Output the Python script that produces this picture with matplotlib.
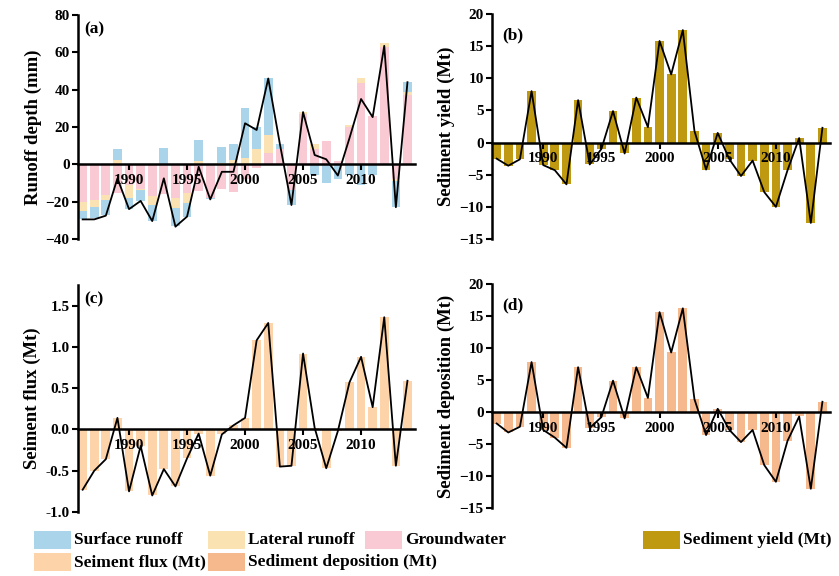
import numpy as np
import matplotlib.pyplot as plt
from matplotlib.patches import Rectangle

plt.rcParams['font.family'] = ['Liberation Serif', 'DejaVu Serif']
plt.rcParams['font.weight'] = 'bold'

years = np.arange(1986, 2015)

# Runoff components (mm), stacked from zero outward: groundwater, lateral, surface
groundwater = [-20, -19, -16.5, -15.5, -11, -13, -17, -16, -18, -15.5, -14.3, -18, -13, -14.9,
               -8, -2, 5.9, 8.2, -13.5, 27, 8, 12.6, 2, 20, 43.4, 25.9, 63, -8, 37]
lateral = [-5, -4, -2.7, 2.5, -7, -1, -5, 0, -5.4, -5.4, 2, 0, 0.5, 2.3,
           3.4, 8, 9.8, 0, 0, 1, 3, 0, 0, 1, 2.7, 0, 1.8, -1, 1.8]
surface = [-4.5, -6, -8, 5.5, -6, -5.6, -8.4, 8.5, -9.8, -7.1, 11, -0.8, 8.6, 8.6,
           26.8, 12.1, 30.7, 2.8, -8.3, 0, -5.8, -10, -8, -5.7, -11, -5.8, 0, -14, 5.4]
runoff_total = [-29.5, -29.5, -27.5, -7.5, -24, -19.6, -30.4, -7.5, -33.4, -28, -1.3, -18.8, -4, -4,
                22, 18.4, 46, 11, -21.8, 28, 5, 2.7, -6, 14, 35, 25.3, 63.5, -23, 44]

sediment_yield = [-2.5, -3.6, -2.6, 8.0, -3.5, -4.3, -6.5, 6.6, -3.4, -1.0, 4.9, -1.7, 7.0, 2.4,
                  15.8, 10.6, 17.5, 1.8, -4.2, 1.5, -2.6, -5.2, -2.8, -7.7, -10.0, -4.3, 0.7, -12.5, 2.3]
sediment_flux = [-0.73, -0.5, -0.36, 0.14, -0.75, -0.2, -0.8, -0.48, -0.69, -0.35, -0.05, -0.56, -0.06, 0.05,
                 0.14, 1.08, 1.29, -0.45, -0.44, 0.92, 0.02, -0.47, -0.02, 0.57, 0.88, 0.27, 1.36, -0.44, 0.59]
sediment_dep = [-1.8, -3.2, -2.3, 7.8, -2.8, -4.0, -5.6, 7.0, -2.5, -0.8, 4.9, -1.0, 7.0, 2.2,
                15.6, 9.3, 16.2, 2.0, -3.6, 0.5, -2.8, -4.7, -2.8, -8.3, -10.9, -4.5, -0.7, -12.0, 1.6]

year_ticks = [1990, 1995, 2000, 2005, 2010]

C_SURF = '#a9d4e9'
C_LAT = '#fbe2b3'
C_GW = '#f9c9d4'
C_YIELD = '#bf9a10'
C_FLUX = '#fdd3aa'
C_DEP = '#f6b98d'

W, H = 839, 576
fig = plt.figure(figsize=(W / 100, H / 100), dpi=100)


def px_axes(x0, y0, x1, y1):
    return fig.add_axes([x0 / W, 1 - y1 / H, (x1 - x0) / W, (y1 - y0) / H])


def style(ax, ylim, yticks, ylabel, letter, fmt=None, letter_xy=(0.02, 0.97)):
    ax.set_xlim(1985.6, 2014.65)
    ax.set_ylim(*ylim)
    for s in ('top', 'right'):
        ax.spines[s].set_visible(False)
    ax.spines['bottom'].set_position(('data', 0))
    ax.spines['bottom'].set_linewidth(1.8)
    ax.spines['left'].set_linewidth(1.8)
    ax.set_xticks(year_ticks)
    ax.set_yticks(yticks)
    if fmt:
        ax.set_yticklabels([fmt % v for v in yticks])
    ax.tick_params(axis='x', direction='out', length=4, width=1.5, pad=3, labelsize=11)
    ax.tick_params(axis='y', direction='out', length=4, width=1.5, pad=2, labelsize=11)
    for lab in ax.get_xticklabels() + ax.get_yticklabels():
        lab.set_fontweight('bold')
    ax.set_ylabel(ylabel, fontsize=13.5, fontweight='bold', labelpad=3)
    ax.text(letter_xy[0], letter_xy[1], letter, transform=ax.transAxes, fontsize=12.5,
            fontweight='bold', va='top', ha='left')
    ax.set_zorder(1)


bw = 0.75

# (a) stacked runoff components with total line
ax_a = px_axes(78, 15, 415, 239)
pos_base = np.zeros(len(years))
neg_base = np.zeros(len(years))
for vals, col in ((groundwater, C_GW), (lateral, C_LAT), (surface, C_SURF)):
    v = np.asarray(vals, dtype=float)
    base = np.where(v >= 0, pos_base, neg_base)
    ax_a.bar(years, v, bw, bottom=base, color=col, linewidth=0)
    pos_base = pos_base + np.clip(v, 0, None)
    neg_base = neg_base + np.clip(v, None, 0)
ax_a.plot(years, runoff_total, color='black', lw=1.3)
style(ax_a, (-40, 80), np.arange(-40, 81, 20), 'Runoff depth (mm)', '(a)')

# (b) sediment yield
ax_b = px_axes(492, 14, 830, 239)
ax_b.bar(years, sediment_yield, bw, color=C_YIELD, linewidth=0)
ax_b.plot(years, sediment_yield, color='black', lw=1.3)
style(ax_b, (-15, 20), np.arange(-15, 21, 5), 'Sediment yield (Mt)', '(b)',
      letter_xy=(0.03, 0.94))

# (c) sediment flux
ax_c = px_axes(78, 285, 415, 512)
ax_c.bar(years, sediment_flux, bw, color=C_FLUX, linewidth=0)
ax_c.plot(years, sediment_flux, color='black', lw=1.3)
style(ax_c, (-1.0, 1.75), np.arange(-1.0, 1.51, 0.5), 'Seiment flux (Mt)', '(c)', fmt='%.1f')

# (d) sediment deposition
ax_d = px_axes(492, 284, 830, 508)
ax_d.bar(years, sediment_dep, bw, color=C_DEP, linewidth=0)
ax_d.plot(years, sediment_dep, color='black', lw=1.3)
style(ax_d, (-15, 20), np.arange(-15, 21, 5), 'Sediment deposition (Mt)', '(d)',
      letter_xy=(0.03, 0.94))

# Legend laid out in two rows beneath the panels
legend_rows = [
    [(C_SURF, 'Surface runoff', 34), (C_LAT, 'Lateral runoff', 208),
     (C_GW, 'Groundwater', 365), (C_YIELD, 'Sediment yield (Mt)', 643)],
    [(C_FLUX, 'Seiment flux (Mt)', 34), (C_DEP, 'Sediment deposition (Mt)', 208)],
]
row_y = [540, 562]
for items, yc in zip(legend_rows, row_y):
    for col, label, x0 in items:
        fig.patches.append(Rectangle((x0 / W, 1 - (yc + 9) / H), 37 / W, 18 / H,
                                     transform=fig.transFigure, facecolor=col,
                                     edgecolor='none'))
        fig.text((x0 + 40) / W, 1 - yc / H, label, fontsize=12.5, fontweight='bold',
                 va='center', ha='left')

fig.savefig('out.png', dpi=100)
